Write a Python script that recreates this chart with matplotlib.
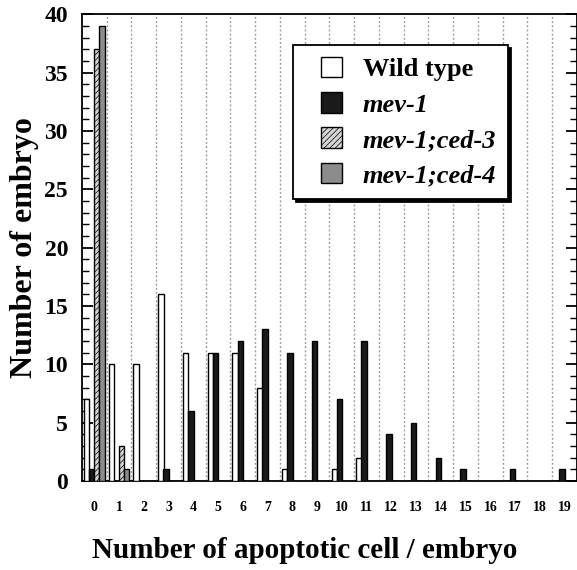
import numpy as np
import matplotlib
matplotlib.use("Agg")
import matplotlib.pyplot as plt
from matplotlib.ticker import MultipleLocator
from matplotlib.patches import Rectangle
from matplotlib.legend_handler import HandlerPatch

# ------------------------------------------------------------------
# Data
# ------------------------------------------------------------------
cell_counts = list(range(20))
wild_type = [7, 10, 10, 16, 11, 11, 11, 8, 1, 0, 1, 2, 0, 0, 0, 0, 0, 0, 0, 0]
mev1      = [1, 0, 0, 1, 6, 11, 12, 13, 11, 12, 7, 12, 4, 5, 2, 1, 0, 1, 0, 1]
mev1_ced3 = [37, 3, 0, 0, 0, 0, 0, 0, 0, 0, 0, 0, 0, 0, 0, 0, 0, 0, 0, 0]
mev1_ced4 = [39, 1, 0, 0, 0, 0, 0, 0, 0, 0, 0, 0, 0, 0, 0, 0, 0, 0, 0, 0]
series_names = ["Wild type", "mev-1", "mev-1;ced-3", "mev-1;ced-4"]

plt.rcParams['font.family'] = ['Liberation Serif', 'DejaVu Serif']
plt.rcParams['font.weight'] = 'bold'
plt.rcParams['hatch.linewidth'] = 0.5
plt.rcParams['hatch.color'] = '#555555'

fig = plt.figure(figsize=(5.77, 5.70), dpi=100)
ax = fig.add_axes([0.142, 0.156, 0.858, 0.819])

x = np.arange(len(cell_counts))
w = 0.215
b_wt = ax.bar(x - 0.31, wild_type, w, color='white', edgecolor='black', lw=1.0,
              zorder=3)
b_m1 = ax.bar(x - 0.10, mev1, w, color='#1a1a1a', edgecolor='black', lw=1.0,
              zorder=3)
b_c3 = ax.bar(x + 0.10, mev1_ced3, w, color='#d4d4d4', edgecolor='black', lw=1.0,
              hatch='//////', zorder=3)
b_c4 = ax.bar(x + 0.31, mev1_ced4, w, color='#8c8c8c', edgecolor='black', lw=1.0,
              zorder=3)

# dotted separators between groups
for b in x[:-1] + 0.5:
    ax.axvline(b, color='#a0a0a0', ls=(0, (1.5, 1.5)), lw=1.0, zorder=1)

ax.set_xlim(-0.5, 19.5)
ax.set_ylim(0, 40)
ax.set_xticks(x)
ax.set_xticklabels([str(c) for c in cell_counts], fontsize=10, fontweight='bold')
ax.tick_params(axis='x', length=0, pad=14)
ax.yaxis.set_major_locator(MultipleLocator(5))
ax.yaxis.set_minor_locator(MultipleLocator(1))
ax.tick_params(axis='y', which='major', direction='in', length=8, width=1.3,
               right=True, labelsize=17, pad=10)
ax.tick_params(axis='y', which='minor', direction='in', length=5, width=1.0,
               right=True)
for s in ax.spines.values():
    s.set_linewidth(1.3)

ax.set_ylabel('Number of embryo', fontsize=23, fontweight='bold', labelpad=4)
ax.set_xlabel('Number of apoptotic cell / embryo', fontsize=21,
              fontweight='bold', labelpad=17)
ax.xaxis.label.set_x(0.45)


# small square legend keys, placed towards the right of the handle box
def square_key(legend, orig_handle, xdescent, ydescent, width, height, fontsize):
    side = 0.78 * fontsize
    return Rectangle((width - side - xdescent, (height - side) / 2 - ydescent),
                     side, side)


handles = [bc.patches[0] for bc in (b_wt, b_m1, b_c3, b_c4)]
leg = ax.legend(handles, series_names,
                loc='upper left', bbox_to_anchor=(0.426, 0.934),
                frameon=True, fancybox=False, framealpha=1,
                edgecolor='black', shadow={'color': 'black', 'alpha': 1},
                prop={'size': 19, 'weight': 'bold'},
                handler_map={Rectangle: HandlerPatch(patch_func=square_key)},
                handlelength=1.4, handleheight=0.8, labelspacing=0.42,
                borderpad=0.45, handletextpad=0.8, borderaxespad=0)
leg.get_frame().set_linewidth(1.3)
leg.set_zorder(5)
for t in leg.get_texts()[1:]:
    t.set_fontstyle('italic')

fig.savefig('out.png', dpi=100)
